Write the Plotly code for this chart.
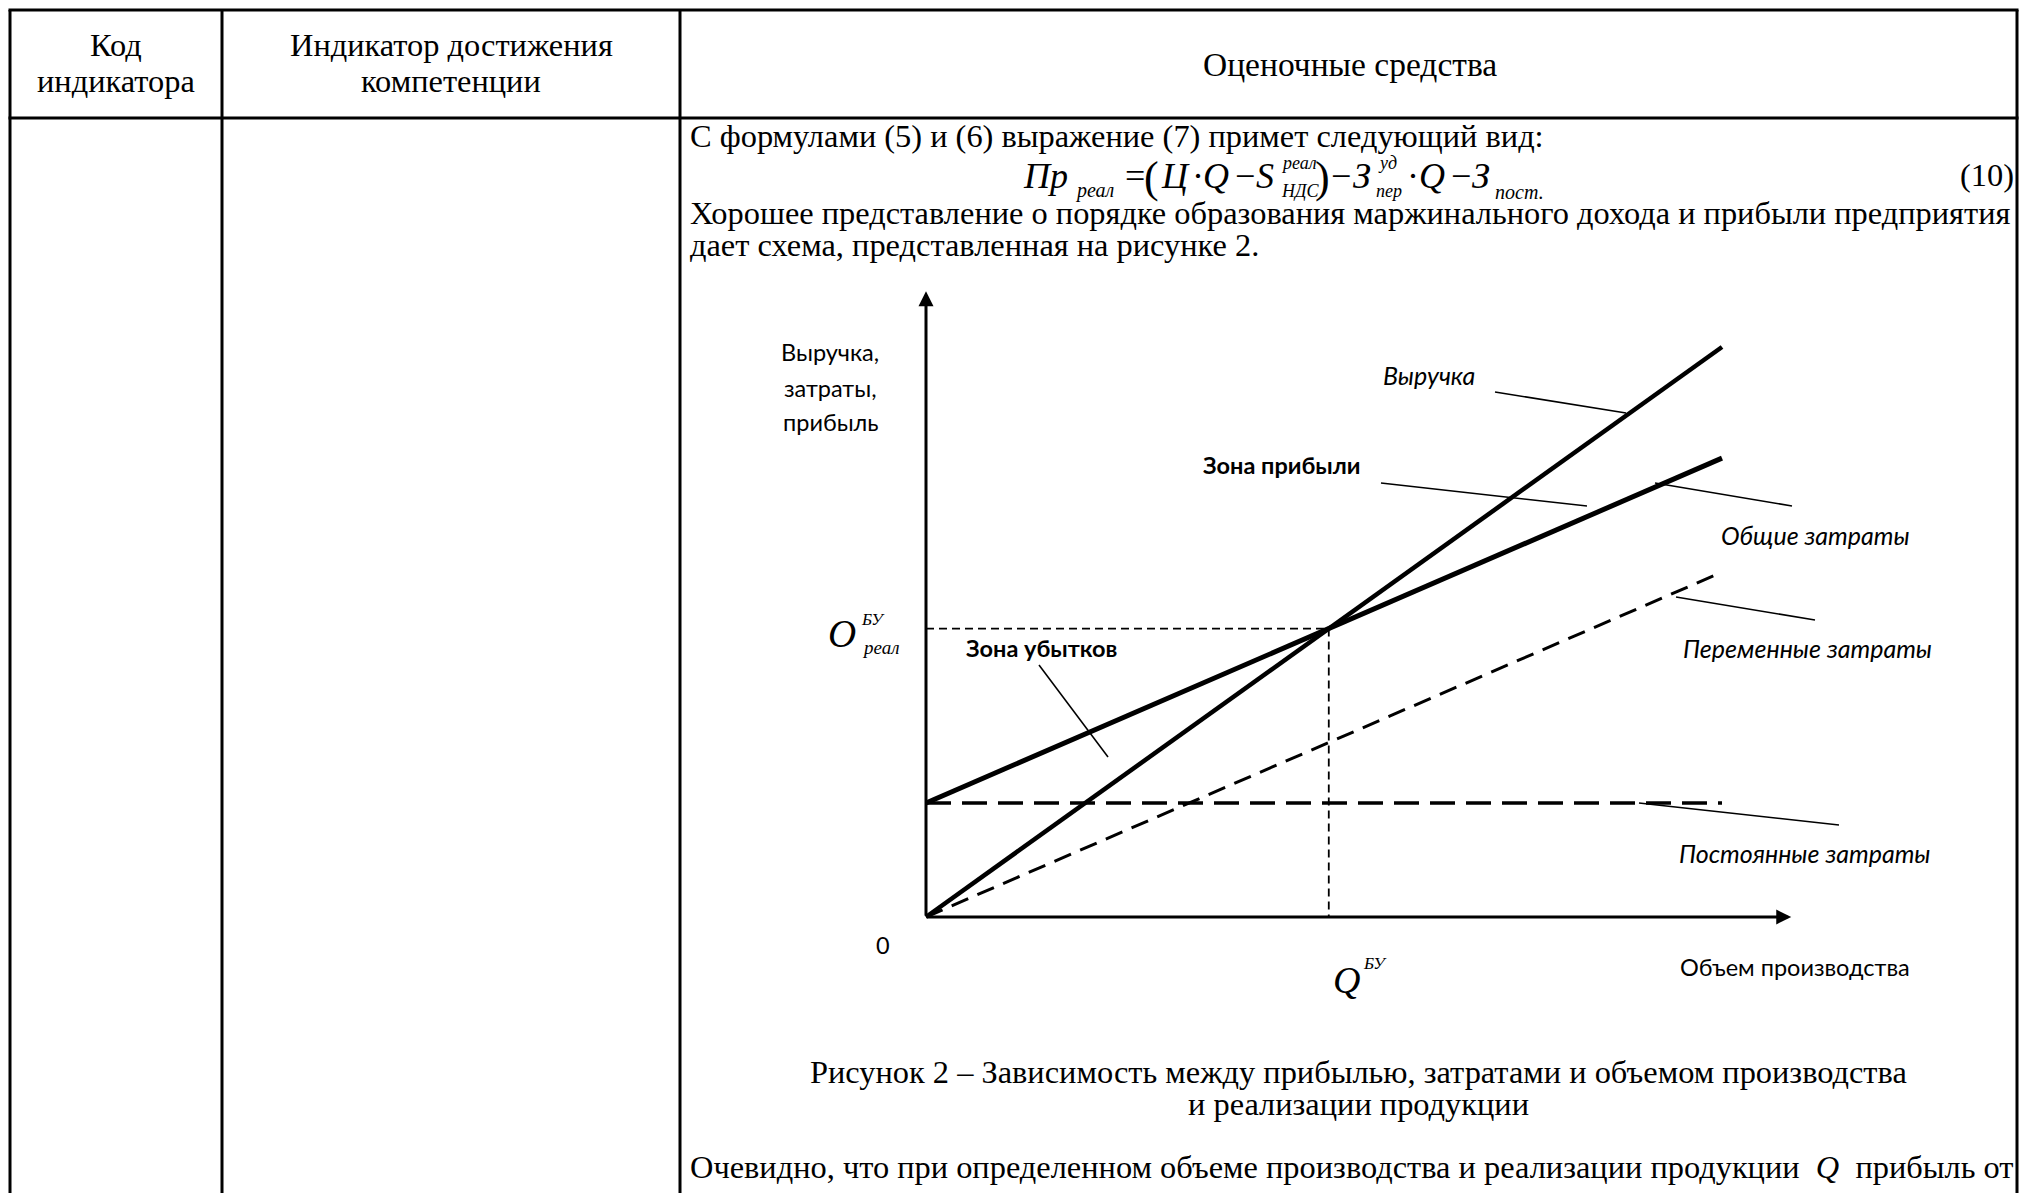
import plotly.graph_objects as go

W, H = 2019, 1193

# ---------------- data ----------------
volume = [0, 10]
revenue = [0, 10]
fixed_costs = [2, 2]
variable_costs = [0, 6.05]
total_costs = [2, 8.05]
q_be = 5.06
o_be = 5.06
x_axis_end = 10.87
y_axis_end = 10.98

header_col1 = ["Код", "индикатора"]
header_col2 = ["Индикатор достижения", "компетенции"]
header_col3 = "Оценочные средства"
body_line1 = "С формулами (5) и (6) выражение (7) примет следующий вид:"
body_line3 = "Хорошее представление о порядке образования маржинального дохода и прибыли предприятия"
body_line4 = "дает схема, представленная на рисунке 2."
caption = ["Рисунок 2 – Зависимость между прибылью, затратами и объемом производства",
           "и реализации продукции"]
last_line = "Очевидно, что при определенном объеме производства и реализации продукции  <i>Q</i>  прибыль от"
y_axis_title = ["Выручка,", "затраты,", "прибыль"]
x_axis_title = "Объем производства"

# ---------------- geometry ----------------
X0_PX, XU = 926, 79.6
Y0_PX, YU = 917, 57.0
xrange = [-X0_PX / XU, (W - X0_PX) / XU]
yrange = [-(H - Y0_PX) / YU, Y0_PX / YU]

SERIF = "Liberation Serif"
SANS = "Lato"
BODY = 32.4

fig = go.Figure()

# chart lines
fig.add_trace(go.Scatter(x=volume, y=variable_costs, mode="lines",
                         line=dict(color="black", width=3, dash="18px,10px")))
fig.add_trace(go.Scatter(x=volume, y=fixed_costs, mode="lines",
                         line=dict(color="black", width=3.5, dash="25px,11px")))
fig.add_trace(go.Scatter(x=[0, q_be], y=[o_be, o_be], mode="lines",
                         line=dict(color="black", width=1.8, dash="8px,5px")))
fig.add_trace(go.Scatter(x=[q_be, q_be], y=[o_be, 0], mode="lines",
                         line=dict(color="black", width=1.8, dash="8px,5px")))
fig.add_trace(go.Scatter(x=volume, y=revenue, mode="lines",
                         line=dict(color="black", width=4.5)))
fig.add_trace(go.Scatter(x=volume, y=total_costs, mode="lines",
                         line=dict(color="black", width=5)))

# axes with arrows
for tip in ((x_axis_end, 0), (0, y_axis_end)):
    fig.add_annotation(x=tip[0], y=tip[1], ax=0, ay=0, xref="x", yref="y", axref="x", ayref="y",
                       text="", showarrow=True, arrowhead=2, arrowsize=1.0, arrowwidth=3,
                       arrowcolor="black", standoff=0)


def px(x):
    return x / W


def py(y):
    return 1 - y / H


def txt(x, y, s, size, fam=SERIF, xa="center", ya="middle"):
    fig.add_annotation(x=px(x), y=py(y), xref="paper", yref="paper", text=s,
                       showarrow=False, font=dict(family=fam, size=size, color="black"),
                       xanchor=xa, yanchor=ya, borderpad=0)


def line(x0, y0, x1, y1, w=1.6):
    fig.add_shape(type="line", xref="paper", yref="paper",
                  x0=px(x0), y0=py(y0), x1=px(x1), y1=py(y1),
                  line=dict(color="black", width=w))


# table borders
TL, C1, C2, TR = 10, 222, 680, 2017
TOP, HB = 10, 118
line(TL - 1.5, TOP, TR + 1.5, TOP, 3)
line(TL - 1.5, HB, TR + 1.5, HB, 3)
for xv in (TL, C1, C2, TR):
    line(xv, TOP, xv, H + 5, 3)

# header text
txt(116, 45, header_col1[0], BODY)
txt(116, 81, header_col1[1], BODY)
txt(451, 45, header_col2[0], BODY)
txt(451, 81, header_col2[1], BODY)
txt(1350, 64, header_col3, 33.5)

# body text
txt(689, 136, body_line1, BODY, xa="left")
txt(689, 213, body_line3, BODY, xa="left")
txt(689, 245, body_line4, BODY, xa="left")

# formula tokens
FM = 176
FS = 36
txt(1022, FM, "<i>Пр</i>", FS, xa="left")
txt(1074, 191, "<i>реал</i>", 20, xa="left")
txt(1124, FM, "=", FS, xa="left")
txt(1143, 178, "(", 44, xa="left")
txt(1160, FM, "<i>Ц</i>", FS, xa="left")
txt(1198, FM, "·", FS)
txt(1202, FM, "<i>Q</i>", FS, xa="left")
txt(1234, FM, "−", FS, xa="left")
txt(1255, FM, "<i>S</i>", FS, xa="left")
txt(1280, 163, "<i>реал</i>", 18, xa="left")
txt(1280, 191, "<i>НДС</i>", 18, xa="left")
txt(1314, 178, ")", 44, xa="left")
txt(1330, FM, "−", FS, xa="left")
txt(1352, FM, "<i>З</i>", FS, xa="left")
txt(1377, 163, "<i>уд</i>", 18, xa="left")
txt(1375, 191, "<i>пер</i>", 18, xa="left")
txt(1413, FM, "·", FS)
txt(1418, FM, "<i>Q</i>", FS, xa="left")
txt(1450, FM, "−", FS, xa="left")
txt(1471, FM, "<i>З</i>", FS, xa="left")
txt(1494, 192, "<i>пост</i>.", 20, xa="left")
txt(2015, 175, "(10)", BODY, xa="right")

# caption and last line
txt(1358, 1072, caption[0], BODY)
txt(1358, 1104, caption[1], BODY)
txt(689, 1167, last_line, BODY, xa="left")

# chart labels
SL = 23.5
SI = 25
txt(830, 352, y_axis_title[0], SL, SANS)
txt(830, 388, y_axis_title[1], SL, SANS)
txt(831, 422, y_axis_title[2], SL, SANS)
txt(1429, 375, "<i>Выручка</i>", SI, SANS)
txt(1282, 465, "<b>Зона прибыли</b>", SL, SANS)
txt(1815, 535, "<i>Общие затраты</i>", SI, SANS)
txt(1807, 648, "<i>Переменные затраты</i>", SI, SANS)
txt(1042, 648, "<b>Зона убытков</b>", SL, SANS)
txt(1805, 853, "<i>Постоянные затраты</i>", SI, SANS)
txt(1795, 967, x_axis_title, SL, SANS)
txt(883, 945, "0", SL, SANS)

# break-even labels
txt(842, 633, "<i>O</i>", 39)
txt(873, 619, "<i>БУ</i>", 17)
txt(880, 647, "<i>реал</i>", 19)
txt(1346, 980, "<i>Q</i>", 38)
txt(1375, 963, "<i>БУ</i>", 17)

# leader lines
line(1495, 392, 1626, 413)
line(1381, 483, 1587, 506)
line(1655, 483, 1792, 506)
line(1676, 597, 1815, 620)
line(1039, 665, 1108, 757)
line(1639, 803, 1839, 825)

fig.update_layout(
    width=W, height=H,
    margin=dict(l=0, r=0, t=0, b=0),
    paper_bgcolor="white", plot_bgcolor="white",
    showlegend=False,
    xaxis=dict(range=xrange, visible=False, fixedrange=True),
    yaxis=dict(range=yrange, visible=False, fixedrange=True),
)

fig.write_html("out.html", config={"displayModeBar": False},
               post_script="document.body.style.margin='0px';document.body.style.overflow='hidden';")
